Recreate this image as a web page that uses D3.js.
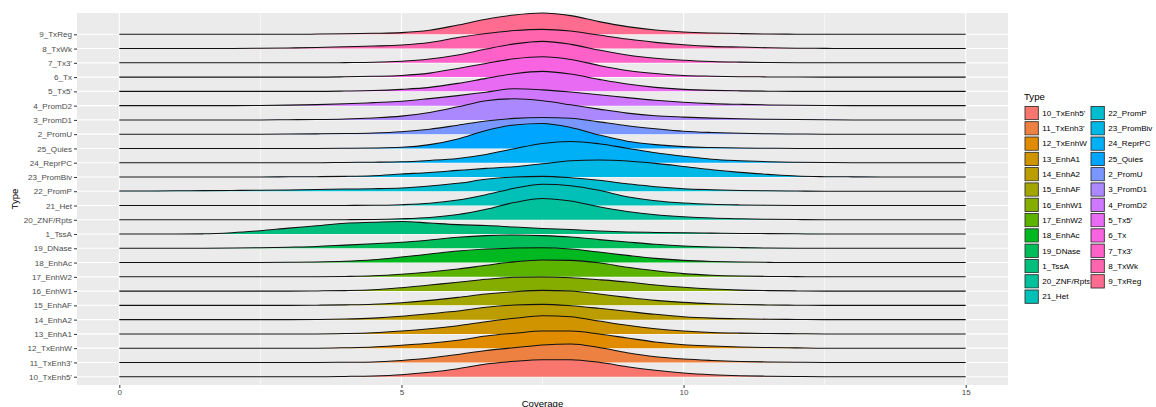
<!DOCTYPE html>
<html>
<head>
<meta charset="utf-8">
<script src="https://cdn.jsdelivr.net/npm/d3@7"></script>
<style>
  body { margin: 0; background: #ffffff; }
  svg { display: block; }
  text { font-family: "Liberation Sans", Arial, Helvetica, sans-serif; }
</style>
</head>
<body>
<svg id="chart" width="1156" height="407"></svg>
<script>
// Chromatin state types, in factor-level order (bottom row first)
const types = ["10_TxEnh5'", "11_TxEnh3'", "12_TxEnhW", "13_EnhA1", "14_EnhA2", "15_EnhAF",
  "16_EnhW1", "17_EnhW2", "18_EnhAc", "19_DNase", "1_TssA", "20_ZNF/Rpts", "21_Het",
  "22_PromP", "23_PromBiv", "24_ReprPC", "25_Quies", "2_PromU", "3_PromD1", "4_PromD2",
  "5_Tx5'", "6_Tx", "7_Tx3'", "8_TxWk", "9_TxReg"];

// Coverage values at which each density is evaluated
const coverage = [0, 0.5, 1, 1.5, 2, 2.5, 3, 3.5, 4, 4.5, 5, 5.5, 6, 6.5, 7, 7.5,
  8, 8.5, 9, 9.5, 10, 10.5, 11, 11.5, 12, 12.5, 13, 13.5, 14, 14.5, 15];

const xTicks = [0, 5, 10, 15];
const xMinorTicks = [2.5, 7.5, 12.5];

// Density estimates per type
const dTxEnh5 = [0,0,0,0,0,0,0,0, 0.006,0.016,0.04,0.088,0.16,0.254,0.308,0.34,0.34,0.288,0.2,0.128,0.074,0.04,0.02,0.01,0.004, 0,0,0,0,0,0];
const dTxEnh3 = [0,0,0,0,0,0,0,0, 0.004,0.01,0.04,0.088,0.16,0.24,0.294,0.348,0.368,0.3,0.194,0.114,0.068,0.04,0.02,0.01,0.004, 0,0,0,0,0,0];
const dTxEnhW = [0,0,0,0,0,0,0,0, 0.008,0.022,0.058,0.098,0.158,0.244,0.298,0.344,0.344,0.284,0.204,0.124,0.07,0.044,0.024,0.012,0.006, 0,0,0,0,0,0];
const dEnhA1  = [0,0,0,0,0,0,0,0, 0.008,0.024,0.058,0.104,0.164,0.244,0.312,0.364,0.344,0.258,0.172,0.104,0.058,0.03,0.016,0.008,0.004, 0,0,0,0,0,0];
const dEnhA2  = [0,0,0,0,0,0,0, 0.004,0.012,0.03,0.066,0.118,0.172,0.246,0.292,0.306,0.278,0.226,0.166,0.106,0.058,0.03,0.016,0.008,0.004, 0,0,0,0,0,0];
const dEnhAF  = [0,0,0,0,0,0,0, 0.004,0.01,0.022,0.054,0.1,0.16,0.228,0.274,0.3,0.288,0.228,0.16,0.1,0.06,0.034,0.018,0.008,0.004, 0,0,0,0,0,0];
const dEnhW1  = [0,0,0,0,0,0,0, 0.004,0.01,0.026,0.068,0.122,0.176,0.236,0.276,0.282,0.268,0.228,0.182,0.122,0.076,0.042,0.02,0.01,0.004, 0,0,0,0,0,0];
const dEnhW2  = [0,0,0,0,0,0,0, 0.002,0.008,0.02,0.05,0.096,0.156,0.23,0.3,0.336,0.33,0.28,0.19,0.12,0.064,0.032,0.016,0.008,0.004, 0,0,0,0,0,0];
const dEnhAc  = [0,0,0,0,0, 0.002,0.006,0.012,0.026,0.056,0.11,0.17,0.23,0.27,0.29,0.296,0.27,0.21,0.144,0.084,0.044,0.022,0.01,0.004, 0,0,0,0,0,0,0];
const dDNase  = [0,0,0, 0.002,0.006,0.012,0.022,0.036,0.064,0.092,0.12,0.166,0.22,0.254,0.266,0.254,0.226,0.174,0.126,0.08,0.046,0.026,0.014,0.006,0.002, 0,0,0,0,0,0];
const dTssA   = [0,0,0, 0.004,0.026,0.066,0.118,0.164,0.216,0.236,0.252,0.22,0.188,0.17,0.14,0.112,0.09,0.062,0.042,0.032,0.024,0.018,0.012,0.008,0.004, 0,0,0,0,0,0];
const dZNF    = [0,0,0,0,0,0,0,0, 0.002,0.006,0.02,0.046,0.104,0.21,0.346,0.426,0.374,0.26,0.166,0.1,0.06,0.034,0.02,0.01,0.004, 0,0,0,0,0,0];
const dHet    = [0,0,0,0,0,0,0,0, 0.002,0.004,0.016,0.044,0.11,0.216,0.344,0.424,0.396,0.304,0.176,0.096,0.05,0.024,0.012,0.006,0.002, 0,0,0,0,0,0];
const dPromP  = [0.004,0.006,0.008,0.012,0.016,0.02,0.026,0.034,0.044,0.05,0.064,0.104,0.158,0.238,0.284,0.298,0.27,0.218,0.15,0.09,0.05,0.03,0.016,0.008,0.004, 0,0,0,0,0,0];
const dPromBiv= [0,0,0,0,0,0, 0.003,0.006,0.012,0.026,0.06,0.09,0.132,0.172,0.204,0.264,0.324,0.338,0.318,0.272,0.21,0.144,0.092,0.052,0.018,0.006,0.002, 0,0,0,0];
const dReprPC = [0,0,0,0,0,0,0,0, 0.006,0.01,0.018,0.046,0.086,0.166,0.28,0.386,0.426,0.38,0.29,0.2,0.13,0.07,0.04,0.02,0.01,0.004, 0,0,0,0,0];
const dQuies  = [0,0,0,0,0,0,0,0, 0.003,0.008,0.022,0.076,0.19,0.36,0.47,0.5,0.42,0.27,0.146,0.076,0.036,0.018,0.008,0.004, 0,0,0,0,0,0,0];
const dPromU  = [0,0,0,0,0,0, 0.002,0.006,0.012,0.024,0.05,0.1,0.18,0.264,0.316,0.334,0.32,0.246,0.17,0.11,0.06,0.034,0.018,0.008,0.004, 0,0,0,0,0,0];
const dPromD1 = [0,0,0,0,0,0, 0.004,0.008,0.018,0.04,0.076,0.15,0.262,0.382,0.422,0.382,0.302,0.216,0.136,0.082,0.056,0.036,0.022,0.012,0.006,0.002, 0,0,0,0,0];
const dPromD2 = [0,0,0,0,0, 0.004,0.01,0.02,0.036,0.06,0.086,0.14,0.2,0.27,0.34,0.316,0.272,0.22,0.16,0.106,0.066,0.04,0.026,0.014,0.006,0.002, 0,0,0,0,0];
const dTx5    = [0,0,0,0,0,0,0,0, 0.006,0.016,0.04,0.08,0.16,0.26,0.354,0.4,0.346,0.24,0.146,0.08,0.04,0.02,0.01,0.004, 0,0,0,0,0,0,0];
const dTx     = [0,0,0,0,0,0,0,0, 0.006,0.016,0.034,0.08,0.174,0.274,0.366,0.406,0.354,0.234,0.134,0.074,0.034,0.018,0.008,0.004, 0,0,0,0,0,0,0];
const dTx3    = [0,0,0,0,0,0,0,0, 0.004,0.01,0.03,0.076,0.156,0.276,0.38,0.43,0.37,0.256,0.156,0.09,0.05,0.026,0.014,0.006,0.002, 0,0,0,0,0,0];
const dTxWk   = [0,0,0,0, 0.002,0.006,0.012,0.02,0.036,0.05,0.07,0.12,0.22,0.3,0.36,0.384,0.35,0.27,0.19,0.124,0.076,0.044,0.03,0.016,0.008,0.004, 0,0,0,0,0];
const dTxReg  = [0,0,0,0,0,0,0, 0.004,0.01,0.02,0.034,0.08,0.186,0.3,0.386,0.426,0.374,0.254,0.154,0.086,0.046,0.026,0.014,0.006,0.003, 0,0,0,0,0,0];

const densities = [dTxEnh5, dTxEnh3, dTxEnhW, dEnhA1, dEnhA2, dEnhAF, dEnhW1, dEnhW2, dEnhAc,
  dDNase, dTssA, dZNF, dHet, dPromP, dPromBiv, dReprPC, dQuies, dPromU, dPromD1, dPromD2,
  dTx5, dTx, dTx3, dTxWk, dTxReg];

const series = types.map((t, i) => ({
  type: t,
  points: coverage.map((c, j) => [c, densities[i][j]])
}));

// R-style hcl() (polar CIE-Luv) to hex, as used by the default discrete hue palette
function hclToHex(h, c, l) {
  const WY = 100, Wu = 0.1978398, Wv = 0.4683363;
  const hr = h * Math.PI / 180;
  const U = c * Math.cos(hr), V = c * Math.sin(hr);
  const Y = WY * (l > 7.999592 ? Math.pow((l + 16) / 116, 3) : l / 903.3);
  const u = U / (13 * l) + Wu, v = V / (13 * l) + Wv;
  const X = 9 * Y * u / (4 * v);
  const Z = -X / 3 - 5 * Y + 3 * Y / v;
  const g = t => t > 0.00304 ? 1.055 * Math.pow(t, 1 / 2.4) - 0.055 : 12.92 * t;
  const rgb = [
    g(( 3.240479 * X - 1.537150 * Y - 0.498535 * Z) / WY),
    g((-0.969256 * X + 1.875992 * Y + 0.041556 * Z) / WY),
    g(( 0.055648 * X - 0.204043 * Y + 1.057311 * Z) / WY)
  ].map(x => Math.round(255 * Math.max(0, Math.min(1, x))));
  return d3.rgb(rgb[0], rgb[1], rgb[2]).formatHex();
}
const huePalette = types.map((t, i) => hclToHex((15 + i * 360 / types.length) % 360, 100, 65));
const color = d3.scaleOrdinal().domain(types).range(huePalette);

// Layout
const svg = d3.select("#chart");
const panel = { left: 77, right: 1008, top: 13, bottom: 385 };

const x = d3.scaleLinear().domain([-0.75, 15.75]).range([panel.left, panel.right]);
const y = d3.scalePoint().domain(types).range([376.7, 34.3]);
const step = y.step();
const maxDensity = d3.max(densities, d => d3.max(d));
const h = d3.scaleLinear().domain([0, maxDensity]).range([0, step * 1.75]);

// Panel background and grid
svg.append("rect")
  .attr("x", panel.left).attr("y", panel.top)
  .attr("width", panel.right - panel.left).attr("height", panel.bottom - panel.top)
  .attr("fill", "#EBEBEB");

svg.append("g").selectAll("line").data(xMinorTicks).join("line")
  .attr("x1", d => x(d)).attr("x2", d => x(d))
  .attr("y1", panel.top).attr("y2", panel.bottom)
  .attr("stroke", "#ffffff").attr("stroke-width", 0.55);

svg.append("g").selectAll("line").data(xTicks).join("line")
  .attr("x1", d => x(d)).attr("x2", d => x(d))
  .attr("y1", panel.top).attr("y2", panel.bottom)
  .attr("stroke", "#ffffff").attr("stroke-width", 1.1);

svg.append("g").selectAll("line").data(types).join("line")
  .attr("x1", panel.left).attr("x2", panel.right)
  .attr("y1", d => y(d)).attr("y2", d => y(d))
  .attr("stroke", "#ffffff").attr("stroke-width", 1.1);

// Ridges: drawn from the top row down so lower ridges overlap upper ones
const ridges = svg.append("g");
series.slice().reverse().forEach(s => {
  const base = y(s.type);
  const area = d3.area()
    .x(d => x(d[0])).y0(base).y1(d => base - h(d[1]))
    .curve(d3.curveMonotoneX);
  const line = d3.line()
    .x(d => x(d[0])).y(d => base - h(d[1]))
    .curve(d3.curveMonotoneX);
  const g = ridges.append("g");
  g.append("path").attr("d", area(s.points)).attr("fill", color(s.type));
  g.append("path").attr("d", line(s.points))
    .attr("fill", "none").attr("stroke", "#111111").attr("stroke-width", 1.05);
});

// Axes
const yAxis = svg.append("g")
  .attr("transform", `translate(${panel.left},0)`)
  .call(d3.axisLeft(y).tickSize(3).tickPadding(2));
yAxis.select(".domain").remove();
yAxis.selectAll(".tick line").attr("stroke", "#333333");
yAxis.selectAll(".tick text").attr("fill", "#4D4D4D").attr("font-size", 8.1)
  .style("font-family", '"Liberation Sans", Arial, sans-serif');

const xAxis = svg.append("g")
  .attr("transform", `translate(0,${panel.bottom})`)
  .call(d3.axisBottom(x).tickValues(xTicks).tickFormat(d3.format("d")).tickSize(3).tickPadding(1.5));
xAxis.select(".domain").remove();
xAxis.selectAll(".tick line").attr("stroke", "#333333");
xAxis.selectAll(".tick text").attr("fill", "#4D4D4D").attr("font-size", 8.1)
  .style("font-family", '"Liberation Sans", Arial, sans-serif');

svg.append("text")
  .attr("x", (panel.left + panel.right) / 2).attr("y", 406.5)
  .attr("text-anchor", "middle").attr("font-size", 9.6).attr("fill", "#000")
  .text("Coverage");

svg.append("text")
  .attr("transform", `translate(17.5,${(panel.top + panel.bottom) / 2}) rotate(-90)`)
  .attr("text-anchor", "middle").attr("font-size", 9.6).attr("fill", "#000")
  .text("Type");

// Legend
const legend = svg.append("g");
legend.append("text")
  .attr("x", 1024).attr("y", 100).attr("font-size", 9.6).attr("fill", "#000")
  .text("Type");

const keySize = 15.3;
const perColumn = 13;
const colX = [1024, 1090];
const keyTop = 105.4;
const items = legend.selectAll("g.item").data(types).join("g")
  .attr("class", "item")
  .attr("transform", (d, i) => {
    const col = Math.floor(i / perColumn), row = i % perColumn;
    return `translate(${colX[col]},${keyTop + row * keySize})`;
  });
items.append("rect")
  .attr("width", keySize).attr("height", keySize)
  .attr("fill", "#F2F2F2").attr("stroke", "#ffffff").attr("stroke-width", 0.8);
items.append("rect")
  .attr("x", 1).attr("y", 1).attr("width", keySize - 2).attr("height", keySize - 2)
  .attr("fill", d => color(d)).attr("stroke", "#262626").attr("stroke-width", 0.8);
items.append("text")
  .attr("x", keySize + 3).attr("y", keySize / 2).attr("dy", "0.35em")
  .attr("font-size", 8.1).attr("fill", "#000")
  .text(d => d);
</script>
</body>
</html>
